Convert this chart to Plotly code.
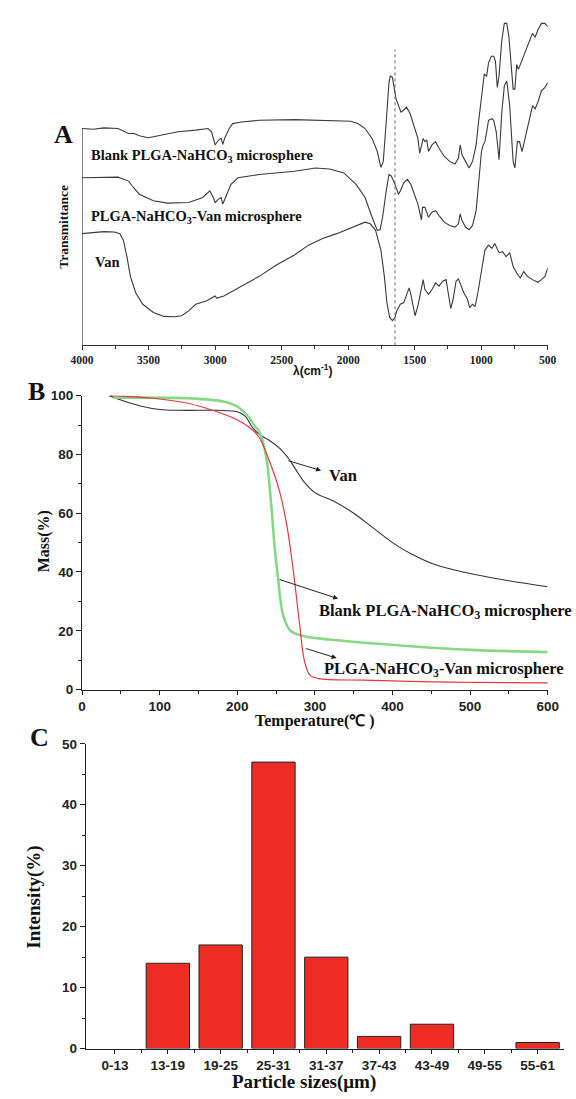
import plotly.graph_objects as go

W, H = 576, 1099

# ---------------- Panel A: FTIR (wavenumber cm-1, transmittance a.u.) ----------------
blank_wn = [4000, 3915, 3836, 3730, 3650, 3610, 3570, 3504, 3464, 3385, 3279, 3146, 3053, 3027, 3000, 2974,
            2955, 2942, 2929, 2894, 2868, 2802, 2669, 2404, 2139, 1980, 1927, 1873, 1820, 1781, 1754, 1736,
            1714, 1693, 1683, 1667, 1640, 1622, 1603, 1587, 1561, 1534, 1502, 1476, 1462, 1449, 1436, 1423,
            1409, 1396, 1370, 1343, 1317, 1277, 1237, 1197, 1171, 1158, 1144, 1118, 1091, 1065, 1038, 1020,
            998, 977, 959, 945, 924, 906, 893, 879, 866, 845, 826, 808, 792, 773, 760, 747, 733, 720, 693,
            653, 614, 595, 574, 547, 521, 500]
blank_t = [660, 658, 662, 660, 645, 645, 638, 632, 635, 642, 650, 655, 660, 650, 610, 625,
           630, 612, 630, 660, 675, 680, 685, 687, 685, 682, 675, 660, 630, 590, 542, 560,
           680, 800, 820, 815, 750, 730, 710, 715, 725, 705, 660, 630, 585, 610, 630, 620,
           625, 590, 610, 620, 600, 575, 560, 552, 570, 610, 580, 560, 540, 560, 610, 680,
           750, 825, 820, 860, 880, 880, 865, 785, 820, 930, 980, 980, 940, 830, 780, 780, 855, 840, 870,
           910, 950, 938, 960, 980, 980, 970]

loaded_wn = [4000, 3836, 3730, 3650, 3623, 3570, 3464, 3358, 3199, 3093, 3040, 3014, 3000, 2974, 2955, 2942,
             2921, 2881, 2828, 2669, 2404, 2245, 2139, 2033, 1940, 1873, 1820, 1781, 1760, 1741, 1714, 1693,
             1675, 1648, 1622, 1608, 1582, 1555, 1529, 1502, 1476, 1449, 1441, 1423, 1409, 1396, 1370, 1343,
             1317, 1277, 1237, 1197, 1171, 1158, 1144, 1118, 1091, 1065, 1038, 1020, 998, 985, 972, 959, 945,
             920, 906, 887, 866, 845, 826, 808, 786, 760, 747, 728, 712, 693, 653, 614, 595, 574, 547, 521, 500]
loaded_t = [510, 512, 512, 500, 485, 460, 440, 433, 435, 450, 470, 450, 435, 445, 450, 430,
            450, 490, 510, 520, 530, 540, 537, 525, 490, 450, 390, 350, 352, 390, 470, 520,
            515, 490, 460, 470, 495, 505, 490, 460, 430, 382, 420, 420, 405, 390, 405, 410,
            395, 375, 365, 360, 370, 400, 380, 360, 352, 365, 410, 490, 590, 610, 620, 650, 685,
            690, 685, 650, 565, 710, 790, 805, 730, 560, 540, 620, 620, 590, 660, 730, 720, 740, 775, 785, 800]

van_wn = [4000, 3915, 3836, 3756, 3716, 3690, 3663, 3637, 3597, 3544, 3464, 3385, 3305, 3252, 3199, 3146,
          3067, 3000, 2987, 2934, 2868, 2802, 2669, 2536, 2404, 2298, 2192, 2086, 1980, 1873, 1834, 1794,
          1754, 1728, 1709, 1688, 1667, 1648, 1635, 1608, 1582, 1561, 1542, 1529, 1508, 1497, 1476, 1449,
          1436, 1423, 1396, 1370, 1343, 1317, 1290, 1264, 1242, 1229, 1211, 1189, 1171, 1152, 1131, 1105,
          1086, 1065, 1046, 1025, 998, 972, 945, 920, 898, 866, 839, 813, 786, 760, 733, 707, 680, 653,
          614, 574, 547, 521, 500]
van_t = [340, 344, 346, 345, 340, 320, 270, 210, 160, 125, 100, 88, 87, 90, 105, 125,
         135, 150, 144, 150, 165, 180, 210, 245, 275, 305, 325, 340, 358, 375, 370, 350,
         290, 210, 130, 85, 75, 85, 105, 125, 130, 155, 175, 155, 110, 90, 120, 170,
         200, 170, 155, 170, 190, 180, 195, 200, 150, 112, 140, 195, 202, 182, 160, 142,
         115, 125, 118, 160, 230, 290, 305, 295, 310, 282, 285, 270, 282, 240, 220, 205, 225, 210,
         200, 192, 200, 210, 235]

ftir_ticks = [4000, 3500, 3000, 2500, 2000, 1500, 1000, 500]
marker_wn = 1648

# ---------------- Panel B: TGA ----------------
tga_van_T = [35, 50, 75, 100, 125, 150, 175, 200, 210, 220, 230, 240, 255, 265, 275, 285, 300, 325, 350,
             375, 400, 425, 450, 475, 500, 550, 600]
tga_van_m = [100, 98.5, 96.5, 95.3, 95, 95, 95, 94.5, 93, 89, 86.5, 85, 82, 79, 75, 71, 67, 64, 60,
             55, 50, 46, 43, 41, 39.5, 37, 35]

tga_blank_T = [40, 45.5, 136.5, 182, 200, 214, 223, 227.6, 236.7, 243.5, 248, 252.6, 259.4, 268.5, 282,
               318.6, 409.6, 500.6, 600]
tga_blank_m = [99.3, 99.3, 99.1, 98, 96.3, 92.9, 89.5, 88, 80, 63.5, 49, 37.6, 25, 20, 18.4,
               17, 15, 13.5, 12.8]

tga_loaded_T = [36.4, 91, 136.5, 173, 195.7, 214, 227.6, 241, 254.9, 264, 273, 280, 286.8, 293.6, 305,
                364, 455, 600]
tga_loaded_m = [100, 99.1, 97.4, 94.6, 92.3, 89.5, 86, 78, 67, 55.6, 38.7, 22.9, 9.4, 4.9, 3.7,
                3.2, 2.6, 2.3]

# ---------------- Panel C: particle size ----------------
size_bins = ["0-13", "13-19", "19-25", "25-31", "31-37", "37-43", "43-49", "49-55", "55-61"]
intensity = [0, 14, 17, 47, 15, 2, 4, 0, 1]


def px(x):
    return x / W


def py(y):
    return 1 - y / H


SERIF = "Liberation Serif"
SANS = "Liberation Sans"
LINE = "#3a3a3a"

fig = go.Figure()

for wn, t in [(blank_wn, blank_t), (loaded_wn, loaded_t), (van_wn, van_t)]:
    fig.add_trace(go.Scatter(x=wn, y=t, mode="lines", line=dict(color=LINE, width=1.1),
                             xaxis="x", yaxis="y", showlegend=False, hoverinfo="skip"))

fig.add_trace(go.Scatter(x=tga_van_T, y=tga_van_m, mode="lines", line=dict(color="#333333", width=1.1),
                         xaxis="x2", yaxis="y2", showlegend=False, line_shape="spline"))
fig.add_trace(go.Scatter(x=tga_blank_T, y=tga_blank_m, mode="lines", line=dict(color="#86d886", width=2.6),
                         xaxis="x2", yaxis="y2", showlegend=False, line_shape="spline"))
fig.add_trace(go.Scatter(x=tga_loaded_T, y=tga_loaded_m, mode="lines", line=dict(color="#e8363c", width=1.2),
                         xaxis="x2", yaxis="y2", showlegend=False, line_shape="spline"))

fig.add_trace(go.Bar(x=list(range(len(size_bins))), y=intensity, width=0.82,
                     marker=dict(color="#ee2c26",
                                 line=dict(color="#222222", width=[1 if v > 0 else 0 for v in intensity])),
                     xaxis="x3", yaxis="y3", showlegend=False))

tickfont_sans = dict(family=SANS, size=13.5, color="#222", weight="bold")

layout = dict(
    width=W, height=H, autosize=False,
    margin=dict(l=0, r=0, t=0, b=0),
    paper_bgcolor="white", plot_bgcolor="white",
    xaxis=dict(domain=[px(73), px(558)], anchor="y", range=[4000, 500],
               tickmode="array", tickvals=ftir_ticks, ticks="outside", ticklen=4, tickwidth=1,
               tickcolor="#333", showline=True, linecolor="#333", linewidth=1.2, showgrid=False,
               zeroline=False, tickfont=dict(family=SERIF, size=11.5, color="#222", weight="bold"),
               minor=dict(tickvals=[3750, 3250, 2750, 2250, 1750, 1250, 750], ticks="outside",
                          ticklen=3, tickcolor="#333")),
    yaxis=dict(domain=[py(343), 1.0], anchor="x", range=[0, 1030], showticklabels=False,
               ticks="", showline=False, showgrid=False, zeroline=False),
    xaxis2=dict(domain=[px(73), px(558)], anchor="y2", range=[0, 600], tickmode="linear", tick0=0,
                dtick=100, ticks="outside", ticklen=4, tickwidth=1.2, tickcolor="#222",
                showline=True, linecolor="#222", linewidth=1.4, showgrid=False, zeroline=False,
                tickfont=tickfont_sans,
                minor=dict(dtick=50, ticks="outside", ticklen=3, tickcolor="#222")),
    yaxis2=dict(domain=[py(692), py(394)], anchor="x2", range=[0, 100], tickmode="linear", tick0=0,
                dtick=20, ticks="outside", ticklen=5, tickwidth=1.2, tickcolor="#222",
                showline=True, linecolor="#222", linewidth=1.4, showgrid=False, zeroline=False,
                tickfont=tickfont_sans,
                minor=dict(dtick=10, ticks="outside", ticklen=3, tickcolor="#222")),
    xaxis3=dict(domain=[px(77), px(575)], anchor="y3", range=[-0.55, 8.5], tickmode="array",
                tickvals=list(range(len(size_bins))), ticktext=size_bins, ticks="outside", ticklen=4,
                tickwidth=1.2, tickcolor="#222", showline=True, linecolor="#222", linewidth=1.4,
                showgrid=False, zeroline=False, tickfont=tickfont_sans,
                minor=dict(tickvals=[i + 0.5 for i in range(len(size_bins) - 1)], ticks="outside",
                           ticklen=3, tickcolor="#222")),
    yaxis3=dict(domain=[py(1056), py(747)], anchor="x3", range=[0, 50], tickmode="linear", tick0=0,
                dtick=10, ticks="outside", ticklen=5, tickwidth=1.2, tickcolor="#222",
                showline=True, linecolor="#222", linewidth=1.4, showgrid=False, zeroline=False,
                tickfont=tickfont_sans,
                minor=dict(dtick=5, ticks="outside", ticklen=3, tickcolor="#222")),
)
fig.update_layout(**layout)

# Panel A left spine (partial) and dotted marker
fig.add_shape(type="line", xref="x", yref="y", x0=4000, x1=4000, y0=0, y1=661,
              line=dict(color="#333", width=1.2))
fig.add_shape(type="line", xref="x", yref="y", x0=marker_wn, x1=marker_wn, y0=0, y1=901,
              line=dict(color="#666", width=1, dash="dot"))


def ann(text, x, y, size, family=SERIF, xanchor="center", textangle=0, xref="paper", yref="paper"):
    fig.add_annotation(text=text, x=x, y=y, xref=xref, yref=yref, showarrow=False,
                       xanchor=xanchor, yanchor="middle", textangle=textangle,
                       font=dict(family=family, size=size, color="#111"))


# Panel letters
ann("<b>A</b>", px(54), py(129), 26)
ann("<b>B</b>", px(26), py(390), 26)
ann("<b>C</b>", px(29), py(741), 26)

# Panel A labels
ann("<b>Blank PLGA-NaHCO<sub>3</sub> microsphere</b>", px(80), py(151), 14.5, xanchor="left")
ann("<b>PLGA-NaHCO<sub>3</sub>-Van microsphere</b>", px(80), py(213), 14.5, xanchor="left")
ann("<b>Van</b>", px(84), py(259), 14.5, xanchor="left")
ann("<b>Transmittance</b>", px(54), py(223), 13.5, textangle=-90)
ann("<b>λ(cm<sup>-1</sup>)</b>", px(313), py(368), 12, family=SANS)

# Panel B labels & arrows
ann("<b>Van</b>", 315.5, 72.8, 16.5, xanchor="left", xref="x2", yref="y2")
ann("<b>Blank PLGA-NaHCO<sub>3</sub> microsphere</b>", 303, 26.8, 16.5, xanchor="left", xref="x2", yref="y2")
ann("<b>PLGA-NaHCO<sub>3</sub>-Van microsphere</b>", 309, 7, 16.5, xanchor="left", xref="x2", yref="y2")
for (x0, y0, x1, y1) in [(264, 78, 308, 74.5), (252.6, 37.6, 330, 30.9), (286.8, 14.1, 328, 10.7)]:
    fig.add_annotation(x=x1, y=y1, ax=x0, ay=y0, xref="x2", yref="y2", axref="x2", ayref="y2",
                       text="", showarrow=True, arrowhead=2, arrowsize=1, arrowwidth=1,
                       arrowcolor="#222")
ann("<b>Mass(%)</b>", px(33), py(542), 16, textangle=-90)
ann("<b>Temperature(℃ )</b>", px(316), py(724), 16)

# Panel C labels
ann("<b>Intensity(%)</b>", px(23), py(903), 19, textangle=-90)
ann("<b>Particle sizes(μm)</b>", px(304), py(1090), 19)

# remove the browser's default page margin so the figure fills the window exactly
fig.write_html("out.html", config={"displayModeBar": False},
               post_script="document.body.style.margin='0px';document.body.style.overflow='hidden';")
